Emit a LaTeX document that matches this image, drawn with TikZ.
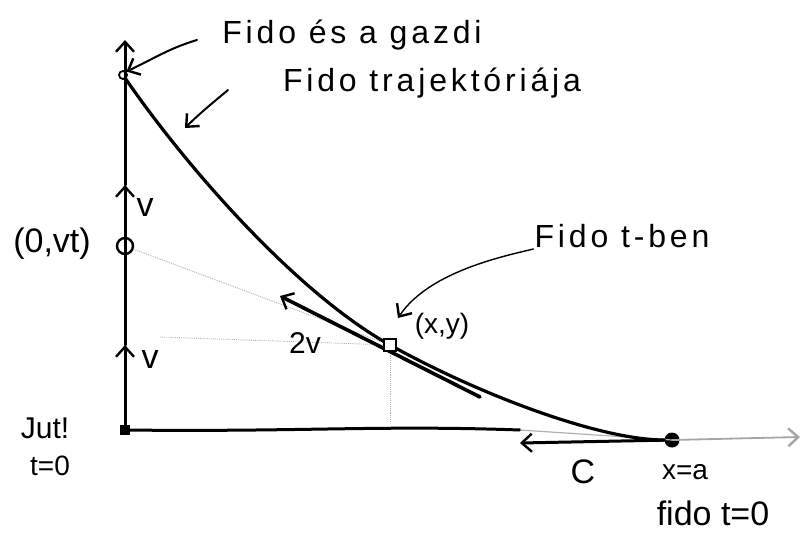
\documentclass[tikz,border=0pt]{standalone}
\usepackage{fontspec}
\setmainfont{Liberation Sans}
\usetikzlibrary{arrows.meta}
\begin{document}
\begin{tikzpicture}[x=1pt,y=-1pt,
  ink/.style={line width=3pt,line cap=round},
  barb/.style={-{Straight Barb[length=10pt,width=18pt,line width=2.4pt]}},
  thin ink/.style={line width=1.8pt,line cap=round},
  guide/.style={gray!60,line width=0.9pt,densely dotted},
  lab/.style={font=\fontsize{34}{36}\selectfont,inner sep=1pt},
  wide lab/.style={font=\fontsize{32}{34}\selectfont\addfontfeature{LetterSpace=12},inner sep=1pt},
  small lab/.style={font=\fontsize{28}{30}\selectfont,inner sep=1pt}]
\useasboundingbox (0,0) rectangle (810,535);
% key points
\coordinate (O) at (125,430);
\coordinate (M1) at (125,345);
\coordinate (M2) at (125,185);
\coordinate (Ytop) at (125,40);
\coordinate (Xend) at (800,437);
\coordinate (P) at (390,345);
\coordinate (F) at (672,440);
\coordinate (Ctip) at (520,443);
\coordinate (T1) at (280,296);
\coordinate (T2) at (480,397);
\coordinate (Pfoot) at (390,422);
\coordinate (Hstart) at (160,337);
\node[draw,circle,inner sep=0pt,minimum size=8pt,line width=1.8pt] (G) at (123,75) {};
\node[draw,circle,inner sep=0pt,minimum size=16pt,line width=2.4pt] (C0) at (125,246) {};
\node[fill,inner sep=0pt,minimum size=10pt] (Osq) at (O) {};
\node[fill,circle,inner sep=0pt,minimum size=15pt] (Fd) at (F) {};
% guides
\draw[guide] (C0) -- (P);
\draw[guide] (Hstart) -- (P);
\draw[guide] (P) -- (Pfoot);
% axes
\draw[ink,barb] (O) -- (M1);
\draw[ink,barb] (M1) -- (M2);
\draw[ink,barb] (M2) -- (Ytop);
\draw[ink] (O) .. controls (300,432) and (380,425) .. (520,430);
\draw[guide,solid,line width=1.2pt] (520,430) -- (F);
\draw[thin ink,gray!70,barb] (F) -- (Xend);
% trajectory
\draw[ink,line width=3.2pt] (G) .. controls (185,165) and (295,292) .. (P)
  .. controls (480,395) and (600,440) .. (Fd);
% tangent velocity
\draw[ink,line width=3.6pt,barb] (T2) -- (T1);
\node[draw,inner sep=0pt,minimum size=12pt,line width=2.6pt,fill=white] (Pm) at (P) {};
% C arrow
\draw[ink,barb] (Fd) -- (Ctip);
% labels
\node[lab] (lOvt) at (52,244) {(0,vt)};
\node[lab] (lv1) at (145,208) {v};
\node[lab] (lv2) at (150,360) {v};
\node[lab,font=\fontsize{30}{32}\selectfont] (l2v) at (305,343) {2v};
\node[small lab] (lxy) at (442,326) {(x,y)};
\node[lab,font=\fontsize{30}{32}\selectfont] (ljut) at (45,428) {Jut!};
\node[small lab] (lt0) at (50,466) {t=0};
\node[lab] (lC) at (583,472) {C};
\node[small lab] (lxa) at (685,472) {x=a};
\node[lab] (lfido) at (713,513) {fido t=0};
\node[wide lab] (lgazdi) at (352,35) {Fido és a gazdi};
\node[wide lab] (ltraj) at (432,83) {Fido trajektóriája};
\node[wide lab] (ltben) at (622,236) {Fido t-ben};
% annotation arrows
\draw[thin ink,line width=2pt,barb] (197,40) .. controls (170,48) and (155,58) .. (G.north east);
\draw[thin ink,line width=2pt,barb] (228,90) .. controls (210,105) and (198,115) .. (185,128);
\draw[thin ink,line width=1.4pt,barb] (ltben.south west) .. controls (510,255) and (430,270) .. (398,318);
\end{tikzpicture}
\end{document}
